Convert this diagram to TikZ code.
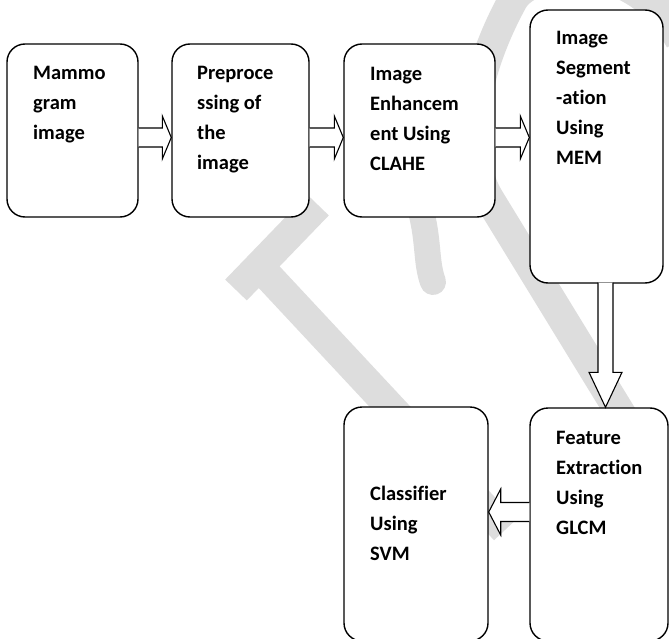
\documentclass[tikz,border=0pt]{standalone}
\usepackage{fontspec}
\setmainfont{Carlito}[Ligatures=NoCommon]
\usetikzlibrary{calc}
\definecolor{wmgray}{HTML}{DDDDDD}
\tikzset{
  box/.style={draw=black, fill=white, line width=1.4pt, rounded corners=18pt, inner sep=0pt},
  lbl/.style={anchor=base west, inner sep=0pt, font=\bfseries\fontsize{20.5}{30}\selectfont},
  barrow/.style={draw=black, fill=white, line width=1.1pt, line join=miter},
  wm/.style={draw=wmgray, line width=30pt}
}
\newcommand{\lines}[1]{\parbox[t]{160pt}{\raggedright #1}}
% right-pointing block arrow between two coordinates (same height)
\newcommand{\rarrow}[2]{\draw[barrow] let \p1=(#1), \p2=(#2) in
  (\x1,\y1+9.5pt) -- (\x2-9pt,\y1+9.5pt) -- (\x2-9pt,\y1+21.5pt) -- (\x2,\y1)
  -- (\x2-9pt,\y1-21.5pt) -- (\x2-9pt,\y1-9.5pt) -- (\x1,\y1-9.5pt);}
% left-pointing block arrow
\newcommand{\larrow}[2]{\draw[barrow] let \p1=(#1), \p2=(#2) in
  (\x1,\y1+9.5pt) -- (\x2+12pt,\y1+9.5pt) -- (\x2+12pt,\y1+23pt) -- (\x2,\y1)
  -- (\x2+12pt,\y1-23pt) -- (\x2+12pt,\y1-9.5pt) -- (\x1,\y1-9.5pt);}
% down-pointing block arrow
\newcommand{\darrow}[2]{\draw[barrow] let \p1=(#1), \p2=(#2) in
  (\x1-7.5pt,\y1) -- (\x1-7.5pt,\y2+35pt) -- (\x1-16.5pt,\y2+35pt) -- (\x1,\y2)
  -- (\x1+16.5pt,\y2+35pt) -- (\x1+7.5pt,\y2+35pt) -- (\x1+7.5pt,\y1);}
\begin{document}
\begin{tikzpicture}[x=1pt,y=-1pt]
\useasboundingbox (0,0) rectangle (669,639);
\clip (0,0) rectangle (669,639);
\fill[white] (0,0) rectangle (669,639);

% watermark
\draw[wm] (640,445) -- (490,200) .. controls (455,143) and (480,60) .. (513,0)
  .. controls (530,-30) and (630,-50) .. (680,40);
\draw[wm, line width=26pt, line cap=round] (418,200) .. controls (430,240) and (425,260) .. (433,282);
\draw[wm] (255,262) -- (505,530);
\draw[wm] (236,290) -- (318,205);

% boxes
\node[box, minimum width=131pt, minimum height=173pt] (b1) at (72.5,130.5) {};
\node[box, minimum width=137pt, minimum height=173pt] (b2) at (240.5,130.5) {};
\node[box, minimum width=151pt, minimum height=173pt] (b3) at (419.5,130.5) {};
\node[box, minimum width=133pt, minimum height=273pt] (b4) at (596.5,146.5) {};
\node[box, minimum width=138pt, minimum height=233pt] (b5) at (599,524.5) {};
\node[box, minimum width=144pt, minimum height=234pt] (b6) at (416,524) {};

% arrows
\coordinate (a1s) at ($(b1.east)+(0,7)$);
\coordinate (a1e) at (b2.west |- a1s);
\rarrow{a1s}{a1e}
\coordinate (a2s) at ($(b2.east)+(0,7)$);
\coordinate (a2e) at (b3.west |- a2s);
\rarrow{a2s}{a2e}
\coordinate (a3s) at ($(b3.east)+(0,7)$);
\coordinate (a3e) at (b4.west |- a3s);
\rarrow{a3s}{a3e}
\coordinate (a4s) at ($(b4.south)+(9,-1)$);
\coordinate (a4e) at (b5.north -| a4s);
\darrow{a4s}{a4e}
\coordinate (a5s) at ($(b5.west)+(0,-12.5)$);
\coordinate (a5e) at (b6.east |- a5s);
\larrow{a5s}{a5e}

% labels
\node[lbl] (t1) at (33,80) {\lines{Mammo\\gram\\image}};
\node[lbl] (t2) at (197,80) {\lines{Preproce\\ssing of\\the\\image}};
\node[lbl] (t3) at (370,81) {\lines{Image\\Enhancem\\ent Using\\CLAHE}};
\node[lbl] (t4) at (556,45) {\lines{Image\\Segment\\-ation\\Using\\MEM}};
\node[lbl] (t5) at (556,444) {\lines{Feature\\Extraction\\Using\\GLCM}};
\node[lbl] (t6) at (370,500) {\lines{Classifier\\Using\\SVM}};
\end{tikzpicture}
\end{document}
